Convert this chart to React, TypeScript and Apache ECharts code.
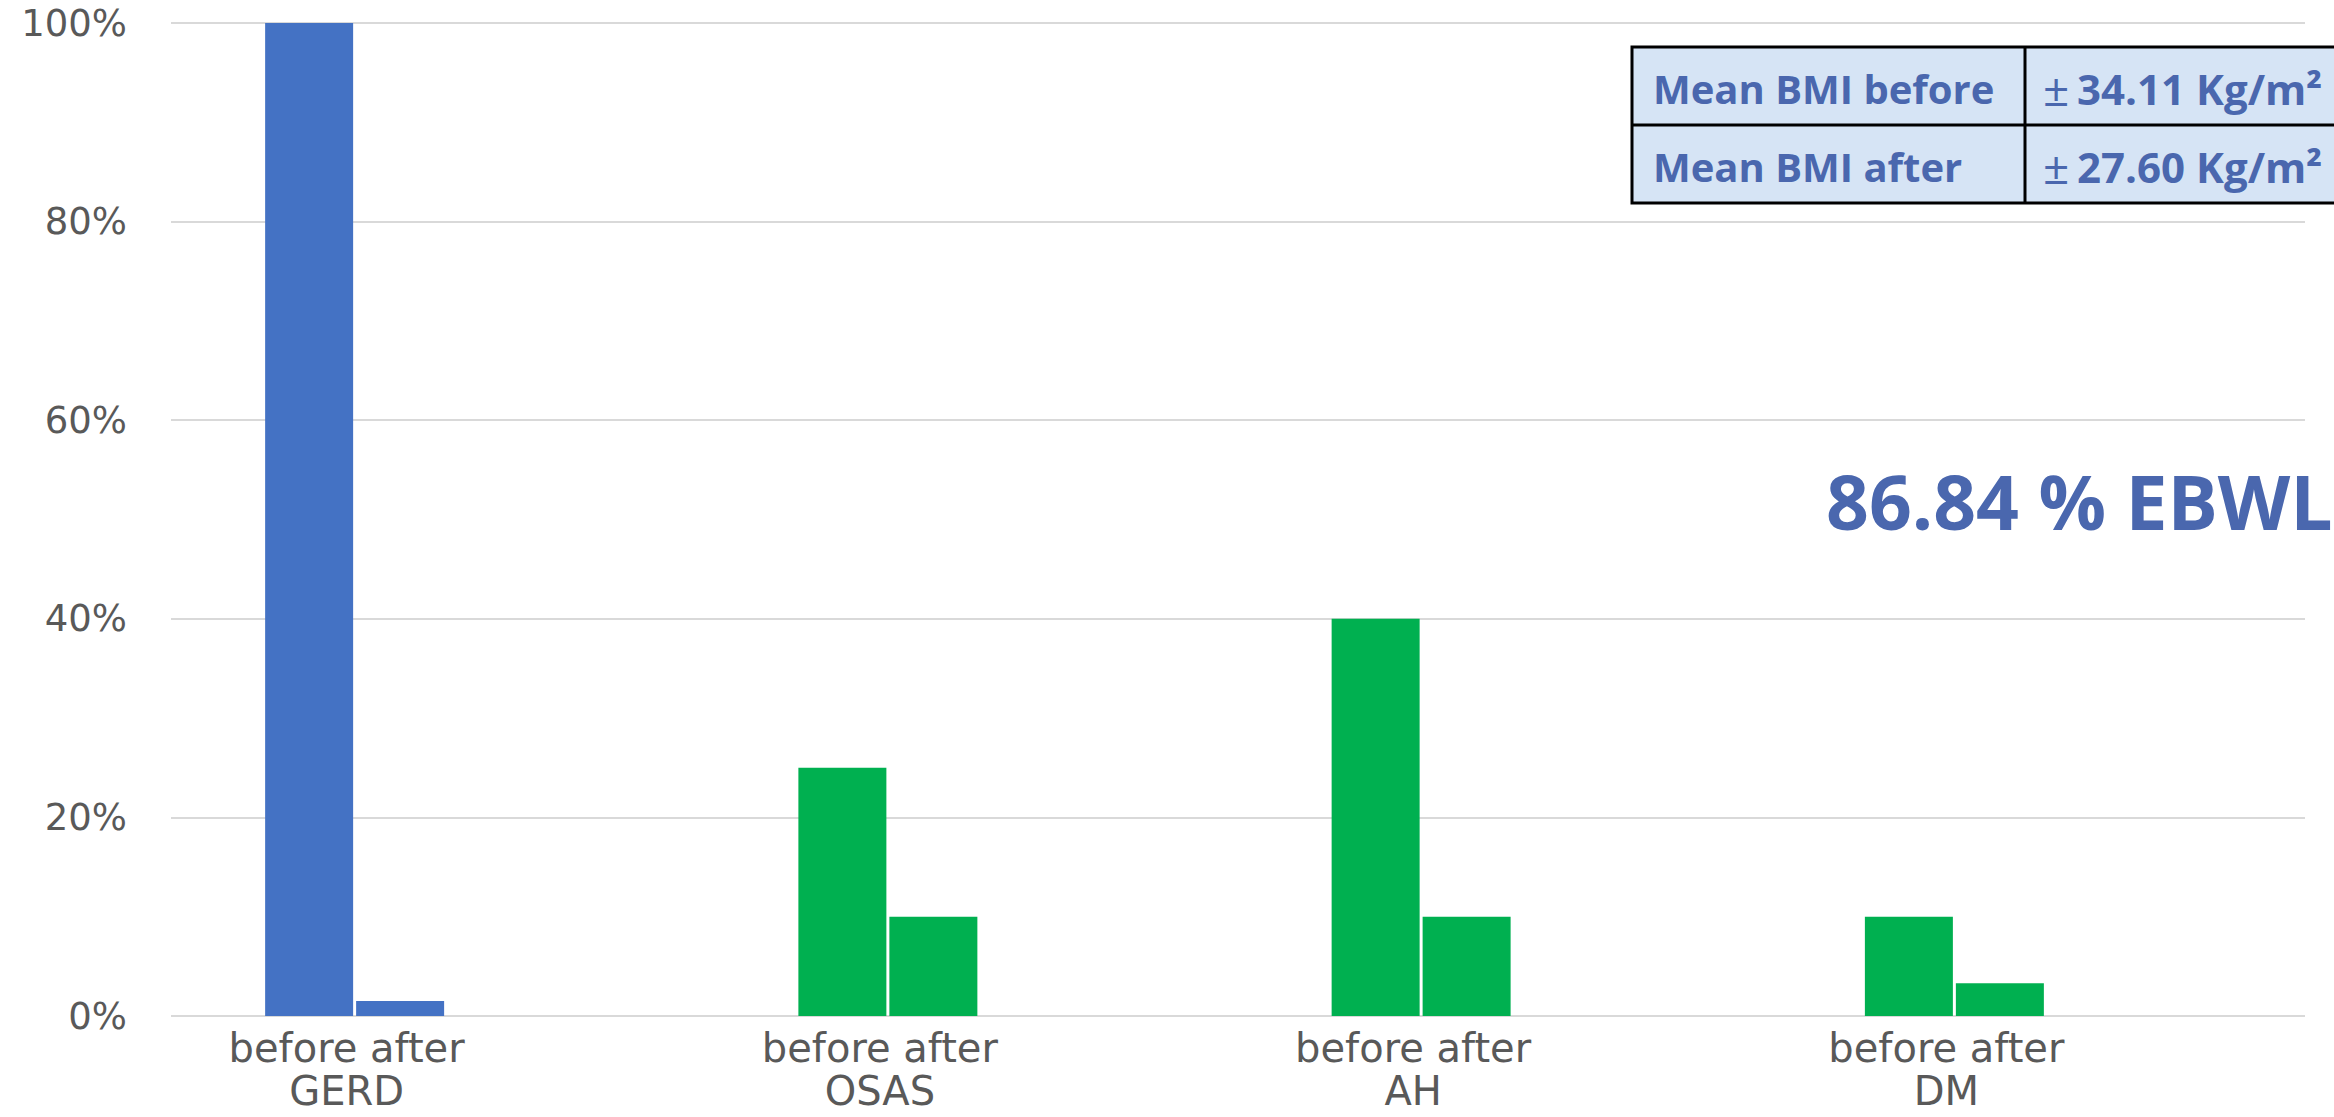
import React, { useEffect, useRef } from "react";
import * as echarts from "echarts";

const categories = ["GERD", "OSAS", "AH", "DM"];
const subLabel = "before after";
const beforeValues = [100, 25, 40, 10];
const afterValues = [1.5, 10, 10, 3.3];
const barColors = ["#4472C4", "#00B050", "#00B050", "#00B050"];
const yTicks = { min: 0, max: 100, interval: 20 };
const tableLabels = ["Mean BMI before", "Mean BMI after"];
const tableValues = ["34.11 Kg/m²", "27.60 Kg/m²"];
const ebwlText = "86.84 % EBWL";

const W = 2334;
const H = 1117;

export default function App() {
  const ref = useRef<HTMLDivElement>(null);
  useEffect(() => {
    if (!ref.current) return;
    const chart = echarts.init(ref.current, undefined, { renderer: "svg" });
    const gridTop = 23;
    const gridBottom = 101;
    const tblX = 1632;
    const tblY = 47;
    const rowH = 78;
    const colX = 2025;
    const tblRight = 2345;
    const textColor = "#4A67AE";
    const tableGraphics: any[] = [
      {
        type: "rect",
        shape: { x: tblX, y: tblY, width: tblRight - tblX, height: rowH * 2 },
        style: { fill: "#D6E4F5", stroke: "#000", lineWidth: 3 },
      },
      {
        type: "line",
        shape: { x1: tblX, y1: tblY + rowH, x2: tblRight, y2: tblY + rowH },
        style: { stroke: "#000", lineWidth: 3 },
      },
      {
        type: "line",
        shape: { x1: colX, y1: tblY, x2: colX, y2: tblY + rowH * 2 },
        style: { stroke: "#000", lineWidth: 3 },
      },
    ];
    tableLabels.forEach((label, i) => {
      const cy = tblY + rowH * i + rowH / 2 + 2;
      tableGraphics.push({
        type: "text",
        x: 1653,
        y: cy,
        style: {
          text: label,
          fill: textColor,
          font: 'bold 40px "Open Sans"',
          verticalAlign: "middle",
          align: "left",
        },
      });
      tableGraphics.push({
        type: "text",
        x: 2043,
        y: cy,
        style: {
          text: "{pm|±} {v|" + tableValues[i] + "}",
          verticalAlign: "middle",
          align: "left",
          rich: {
            pm: { fill: textColor, fontFamily: "Open Sans", fontWeight: "normal", fontSize: 46 },
            v: { fill: textColor, fontFamily: "Open Sans", fontWeight: "bold", fontSize: 42 },
          },
          fill: textColor,
          fontFamily: "Open Sans",
          fontSize: 30,
        },
      });
    });
    const option: any = {
      animation: false,
      backgroundColor: "#ffffff",
      grid: [
        { left: 171, right: 29, top: gridTop, bottom: gridBottom },
        { left: 88, right: 113, top: gridTop, bottom: gridBottom },
      ],
      xAxis: [
        { type: "value", gridIndex: 0, show: false, min: 0, max: 1 },
        {
          type: "category",
          gridIndex: 1,
          data: categories,
          axisLine: { show: false },
          axisTick: { show: false },
          axisLabel: {
            margin: 10,
            fontFamily: "DejaVu Sans",
            fontSize: 40,
            lineHeight: 43,
            color: "#595959",
            padding: [0, 16, 0, 0],
            formatter: (v: string) => subLabel + "\n" + v,
          },
        },
      ],
      yAxis: [
        {
          type: "value",
          gridIndex: 0,
          min: yTicks.min,
          max: yTicks.max,
          interval: yTicks.interval,
          axisLine: { show: false },
          axisTick: { show: false },
          axisLabel: {
            margin: 44,
            fontFamily: "DejaVu Sans",
            fontSize: 37,
            color: "#595959",
            formatter: "{value}%",
          },
          splitLine: { show: true, lineStyle: { color: "#D9D9D9", width: 2 } },
        },
        {
          type: "value",
          gridIndex: 1,
          min: yTicks.min,
          max: yTicks.max,
          show: false,
          splitLine: { show: false },
        },
      ],
      series: [
        {
          name: "before",
          type: "bar",
          xAxisIndex: 1,
          yAxisIndex: 1,
          barWidth: 88,
          barGap: "3.4%",
          data: beforeValues.map((v, i) => ({ value: v, itemStyle: { color: barColors[i] } })),
        },
        {
          name: "after",
          type: "bar",
          xAxisIndex: 1,
          yAxisIndex: 1,
          barWidth: 88,
          barGap: "3.4%",
          data: afterValues.map((v, i) => ({ value: v, itemStyle: { color: barColors[i] } })),
        },
      ],
      graphic: [
        ...tableGraphics,
        {
          type: "text",
          x: 1826,
          y: 501,
          style: {
            text: ebwlText,
            fill: textColor,
            font: 'bold 75px "Open Sans"',
            verticalAlign: "middle",
            align: "left",
          },
        },
      ],
    };
    chart.setOption(option);
    return () => chart.dispose();
  }, []);
  return (
    <div
      ref={ref}
      style={{ position: "fixed", left: 0, top: 0, width: W, height: H, background: "#fff" }}
    />
  );
}
